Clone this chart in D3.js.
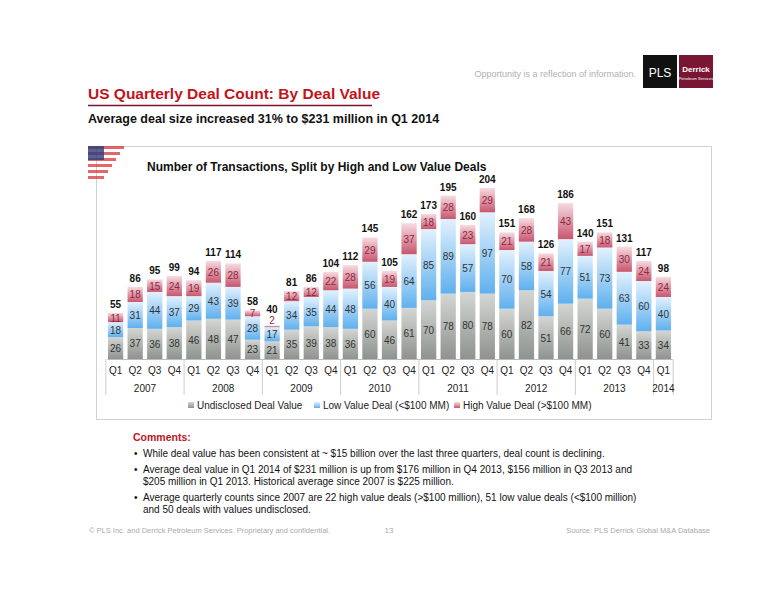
<!DOCTYPE html>
<html><head><meta charset="utf-8">
<script src="https://cdn.jsdelivr.net/npm/d3@7"></script>
<style>body{margin:0;background:#fff}text{font-family:Arial,"Liberation Sans",sans-serif}</style>
</head><body><div id="chart"></div>
<script>
const quarters = ['Q1','Q2','Q3','Q4']
const years = ['2007','2008','2009','2010','2011','2012','2013','2014']
const undisclosed = [26,37,36,38, 46,48,47,23, 21,35,39,38, 36,60,46,61, 70,78,80,78, 60,82,51,66, 72,60,41,33, 34]
const lowValue = [18,31,44,37, 29,43,39,28, 17,34,35,44, 48,56,40,64, 85,89,57,97, 70,58,54,77, 51,73,63,60, 40]
const highValue = [11,18,15,24, 19,26,28,7, 2,12,12,22, 28,29,19,37, 18,28,23,29, 21,28,21,43, 17,18,30,24, 24]
const totals = [55,86,95,99, 94,117,114,58, 40,81,86,104, 112,145,105,162, 173,195,160,204, 151,168,126,186, 140,151,131,117, 98]
const seriesNames = ['Undisclosed Deal Value','Low Value Deal (<$100 MM)','High Value Deal (>$100 MM)']
const comments = [
  ['While deal value has been consistent at ~ $15 billion over the last three quarters, deal count is declining.'],
  ['Average deal value in Q1 2014 of $231 million is up from $176 million in Q4 2013, $156 million in Q3 2013 and','$205 million in Q1 2013.  Historical average since 2007 is $225 million.'],
  ['Average quarterly counts since 2007 are 22 high value deals (>$100 million), 51 low value deals (<$100 million)','and 50 deals with values undisclosed.']
]

const labels = totals.map((d, i) => ({ key: 'k' + i, q: quarters[i % 4], y: years[Math.floor(i / 4)] }))
const rows = labels.map((l, i) => ({ key: l.key, und: undisclosed[i], low: lowValue[i], high: highValue[i], total: totals[i] }))

const svg = d3.select('#chart').append('svg').attr('width', 776).attr('height', 600)

// header
svg.append('text').attr('x', 636).attr('y', 77).attr('text-anchor', 'end').attr('font-size', 9).attr('fill', '#b0b0b0').text('Opportunity is a reflection of information.')
svg.append('rect').attr('x', 643).attr('y', 55).attr('width', 34).attr('height', 33).attr('fill', '#111')
svg.append('text').attr('x', 660).attr('y', 77).attr('text-anchor', 'middle').attr('font-size', 12).attr('fill', '#fff').attr('font-family', 'Liberation Serif').text('PLS')
svg.append('rect').attr('x', 679).attr('y', 55).attr('width', 34).attr('height', 33).attr('fill', '#7a1533')
svg.append('text').attr('x', 696).attr('y', 72).attr('text-anchor', 'middle').attr('font-size', 8).attr('font-weight', 'bold').attr('fill', '#fff').text('Derrick')
svg.append('text').attr('x', 696).attr('y', 80).attr('text-anchor', 'middle').attr('font-size', 4).attr('fill', '#fff').text('Petroleum Services')

svg.append('text').attr('x', 88).attr('y', 99).attr('font-size', 15.5).attr('font-weight', 'bold').attr('fill', '#c0141c').text('US Quarterly Deal Count: By Deal Value')
svg.append('line').attr('x1', 88).attr('x2', 372).attr('y1', 105.5).attr('y2', 105.5).attr('stroke', '#7a1533').attr('stroke-width', 1.5)
svg.append('text').attr('x', 88).attr('y', 123).attr('font-size', 12.5).attr('font-weight', 'bold').attr('fill', '#111').text('Average deal size increased 31% to $231 million in Q1 2014')

// chart box
svg.append('rect').attr('x', 96.5).attr('y', 146.5).attr('width', 615).attr('height', 273).attr('fill', '#fff').attr('stroke', '#d0d0d0')
// flag corner
const flag = svg.append('g')
d3.range(6).forEach(i => flag.append('rect').attr('x', 88).attr('y', 146 + i * 6).attr('width', 36 - i * 4).attr('height', 3).attr('fill', '#d8343c').attr('opacity', 0.75))
flag.append('rect').attr('x', 88).attr('y', 146).attr('width', 16).attr('height', 14).attr('fill', '#2d3c78').attr('opacity', 0.8)

svg.append('text').attr('x', 147).attr('y', 171).attr('font-size', 12).attr('font-weight', 'bold').attr('fill', '#111').text('Number of Transactions, Split by High and Low Value Deals')

const defs = svg.append('defs')
const grads = [['gU', '#d4d6d4', '#8e938f'], ['gL', '#e2f1fd', '#5fb0ee'], ['gH', '#f7dbe1', '#c8566f']]
grads.forEach(([id, a, b]) => {
  const g = defs.append('linearGradient').attr('id', id).attr('x1', 0).attr('x2', 0).attr('y1', 0).attr('y2', 1)
  g.append('stop').attr('offset', '0%').attr('stop-color', a)
  g.append('stop').attr('offset', '100%').attr('stop-color', b)
})

const x = d3.scaleBand().domain(labels.map(d => d.key)).range([107, 672]).paddingInner(0.22).paddingOuter(0.05)
const y = d3.scaleLinear().domain([0, 204]).range([359, 188])

const stack = d3.stack().keys(['und', 'low', 'high'])(rows)
const fills = ['url(#gU)', 'url(#gL)', 'url(#gH)']
const textCol = ['#333', '#333', '#8a2a3e']

stack.forEach((s, si) => {
  const g = svg.append('g')
  g.selectAll('rect').data(s).join('rect')
    .attr('x', d => x(d.data.key)).attr('width', x.bandwidth())
    .attr('y', d => y(d[1])).attr('height', d => y(d[0]) - y(d[1]))
    .attr('fill', fills[si])
  g.selectAll('text').data(s).join('text')
    .attr('x', d => x(d.data.key) + x.bandwidth() / 2)
    .attr('y', d => (d[1] - d[0] < 5 ? y(d[1]) - 1 : (y(d[0]) + y(d[1])) / 2 + 4))
    .attr('text-anchor', 'middle').attr('font-size', 10).attr('fill', textCol[si])
    .text(d => d[1] - d[0])
})
svg.append('g').selectAll('text').data(rows).join('text')
  .attr('x', d => x(d.key) + x.bandwidth() / 2)
  .attr('y', d => y(d.und + d.low + d.high) - (d.high < 5 ? 12 : 5))
  .attr('text-anchor', 'middle').attr('font-size', 10).attr('font-weight', 'bold').attr('fill', '#111')
  .text(d => d.total)

// axis
const axisG = svg.append('g').attr('transform', 'translate(0,359)')
axisG.call(d3.axisBottom(x).tickSize(0).tickFormat((k, i) => labels[i].q))
axisG.select('.domain').attr('stroke', '#bbb')
axisG.selectAll('text').attr('font-size', 10).attr('fill', '#222').attr('dy', '1.2em')
const step = x.step()
years.forEach((yr, yi) => {
  const first = labels.findIndex(l => l.y === yr)
  const n = labels.filter(l => l.y === yr).length
  const x0 = x(labels[first].key) - (step - x.bandwidth()) / 2
  const x1 = x0 + n * step
  svg.append('line').attr('x1', x0).attr('x2', x0).attr('y1', 359).attr('y2', 395).attr('stroke', '#ccc')
  if (yi === years.length - 1) svg.append('line').attr('x1', x1).attr('x2', x1).attr('y1', 359).attr('y2', 395).attr('stroke', '#ccc')
  svg.append('text').attr('x', (x0 + x1) / 2).attr('y', 392).attr('text-anchor', 'middle').attr('font-size', 10).attr('fill', '#222').text(yr)
})

// legend
const legX = [188, 314, 454]
seriesNames.forEach((n, i) => {
  svg.append('rect').attr('x', legX[i]).attr('y', 402).attr('width', 6).attr('height', 6).attr('fill', fills[i])
  svg.append('text').attr('x', legX[i] + 9).attr('y', 409).attr('font-size', 10).attr('fill', '#222').text(n)
})

// comments
svg.append('text').attr('x', 133).attr('y', 441).attr('font-size', 10.5).attr('font-weight', 'bold').attr('fill', '#c0141c').text('Comments:')
let cy = 457
comments.forEach(lines => {
  svg.append('text').attr('x', 134).attr('y', cy).attr('font-size', 10).attr('fill', '#111').text('•')
  lines.forEach(t => {
    svg.append('text').attr('x', 143).attr('y', cy).attr('font-size', 10).attr('fill', '#111').text(t)
    cy += 12.5
  })
  cy += 3
})

// footer
svg.append('text').attr('x', 89).attr('y', 533).attr('font-size', 7.5).attr('fill', '#aaa').text('© PLS Inc. and Derrick Petroleum Services. Proprietary and confidential.')
svg.append('text').attr('x', 389).attr('y', 533).attr('text-anchor', 'middle').attr('font-size', 8).attr('fill', '#aaa').text('13')
svg.append('text').attr('x', 710).attr('y', 533).attr('text-anchor', 'end').attr('font-size', 7.5).attr('fill', '#aaa').text('Source: PLS Derrick Global M&A Database')
</script></body></html>
